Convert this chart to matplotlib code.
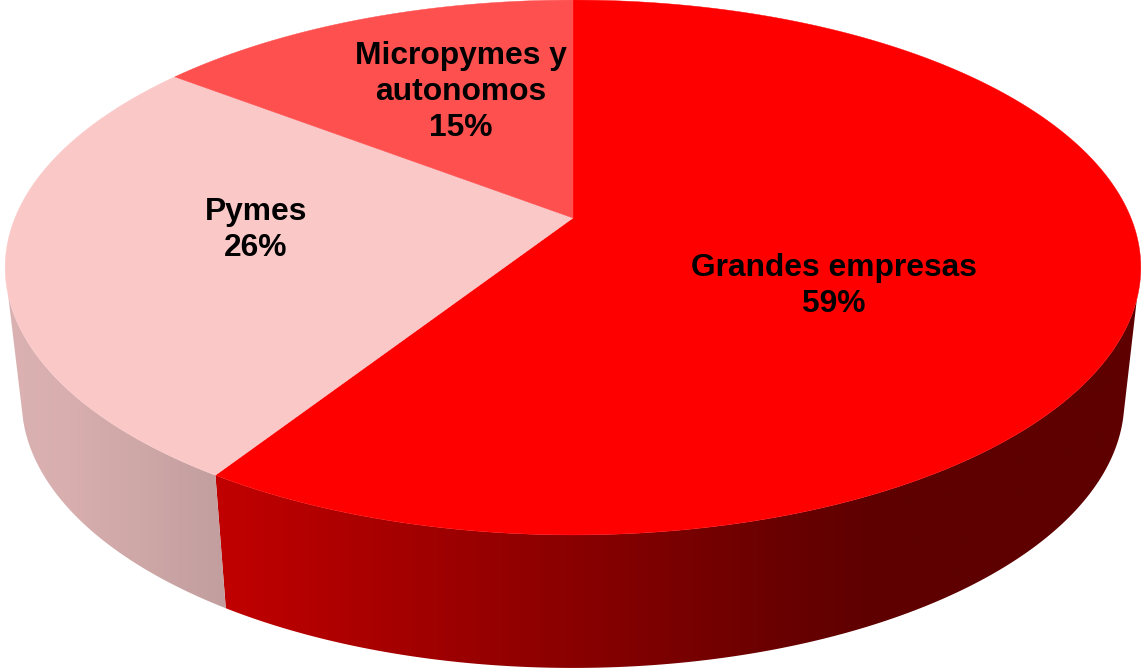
import numpy as np
import matplotlib
matplotlib.use('Agg')
import matplotlib.pyplot as plt
from matplotlib.patches import Polygon

# Datos del grafico
categorias = ['Grandes empresas', 'Pymes', 'Micropymes y\nautonomos']
valores = [59.1, 26.3, 14.6]
colores = ['#FF0000', '#FBC8C8', '#FF5050']

# Geometria de la tarta en pixeles
cx, cy = 573, 218
ax_x, ax_y, persp = 558, 258.3, 0.185
esc_base_x, base_cy, base_dy = 0.971, 400, 267
posiciones_texto = [(834, 286), (256, 230), (461, 92)]


def arco_sup(t):
    # proyeccion en perspectiva del circulo superior (t en radianes, horario desde arriba)
    w = 1 + persp * np.cos(t)
    return cx + ax_x * np.sin(t) / w, cy - ax_y * np.cos(t) / w


def arco_inf(t):
    x, y = arco_sup(t)
    return cx + esc_base_x * (x - cx), base_cy + (y - base_dy)


def lateral(ax, t1, t2, x_grad, colores_grad, lim_sup, lim_inf):
    # cara lateral con degradado horizontal, recortada por la silueta
    t = np.linspace(t1, t2, 400)
    xs, ys = arco_sup(t)
    xi, yi = arco_inf(t)
    vis_s = ys >= lim_sup
    vis_i = yi >= lim_inf
    pts = np.vstack([np.column_stack([xs[vis_s], ys[vis_s]]),
                     np.column_stack([xi[vis_i], yi[vis_i]])[::-1]])
    clip = Polygon(pts, closed=True, transform=ax.transData, facecolor='none', edgecolor='none')
    ax.add_patch(clip)
    xx = np.arange(0, 1146)
    grad = np.stack([np.interp(xx, x_grad, [c[i] for c in colores_grad]) for i in range(3)], axis=-1)
    img = ax.imshow(grad[np.newaxis, :, :] / 255, extent=(0, 1145, 668, 0), aspect='auto', zorder=1)
    img.set_clip_path(clip)


def main():
    fig = plt.figure(figsize=(11.45, 6.68), dpi=100)
    ax = fig.add_axes([0, 0, 1, 1])
    ax.set_xlim(0, 1145)
    ax.set_ylim(668, 0)
    ax.axis('off')

    fracs = np.cumsum([0] + valores) / sum(valores) * 2 * np.pi

    # Caras laterales visibles (las dos primeras porciones)
    lateral(ax, fracs[0], fracs[1], [226, 790, 880, 1145],
            [(192, 0, 0), (104, 0, 0), (94, 0, 0), (94, 0, 0)], 297, 413)
    lateral(ax, fracs[1], fracs[2], [0, 70, 226],
            [(219, 178, 178), (216, 174, 174), (194, 158, 158)], 293, 420)

    # Cara superior
    for i, color in enumerate(colores):
        t = np.linspace(fracs[i], fracs[i + 1], 300)
        x, y = arco_sup(t)
        pts = np.vstack([[cx, cy], np.column_stack([x, y])])
        ax.add_patch(Polygon(pts, closed=True, facecolor=color, edgecolor=color, linewidth=0.3, zorder=2))

    # Etiquetas
    for nombre, valor, (tx, ty) in zip(categorias, valores, posiciones_texto):
        ax.text(tx, ty, f'{nombre}\n{round(valor)}%', ha='center', va='center', color='black',
                fontsize=22.9, fontweight='bold', family='Liberation Sans', linespacing=1.24, zorder=3)

    fig.savefig('out.png', dpi=100)


if __name__ == "__main__":
    main()
